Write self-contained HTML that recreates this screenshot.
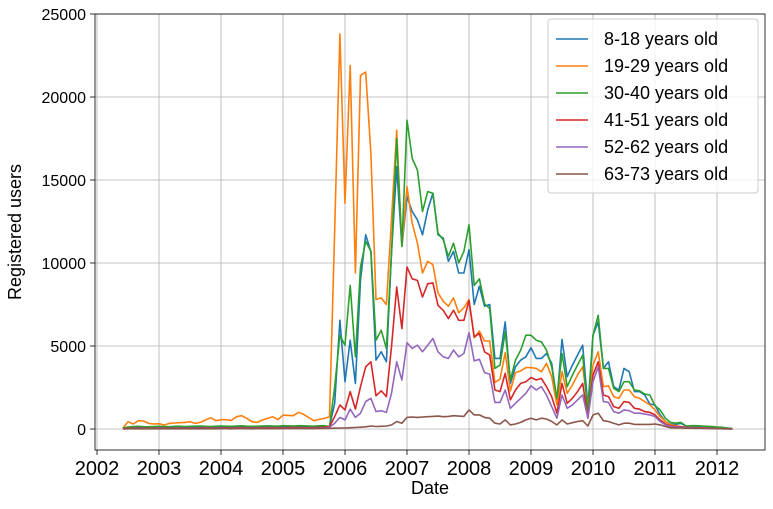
<!DOCTYPE html>
<html><head><meta charset="utf-8"><style>
body{margin:0;background:#fff;}
svg text{font-family:"Liberation Sans",sans-serif;fill:#000;}
</style></head><body>
<svg id="chart" width="773" height="504" xmlns="http://www.w3.org/2000/svg">
<rect x="0" y="0" width="773" height="504" fill="#fff"/>
<g id="grid"></g><g id="series"></g><g id="axes"></g><g id="legend"></g>
</svg>
<script>
const xTicks=[2002,2003,2004,2005,2006,2007,2008,2009,2010,2011,2012];
const yTicks=[0,5000,10000,15000,20000,25000];
const seriesNames=["8-18 years old","19-29 years old","30-40 years old","41-51 years old","52-62 years old","63-73 years old"];
const seriesColors=["#1f77b4","#ff7f0e","#2ca02c","#d62728","#9467bd","#8c564b"];
const startYear=2002.417;
const s8_18=[40,80,90,100,90,80,90,100,90,100,110,100,90,100,110,120,110,100,110,120,120,110,120,130,120,110,120,130,120,130,140,130,140,130,150,140,130,140,130,150,
150,1550,6550,2850,5350,2750,8970,11700,10680,4150,4650,4050,10600,15800,11000,14000,13100,12600,11700,13200,14200,11700,11500,10100,10700,9400,9400,10800,7500,8600,7400,7500,4250,4250,6450,2750,3750,4150,4350,4900,4250,
4250,4550,3950,1650,5400,3150,3850,4450,5050,1350,5650,6450,3650,4050,2550,2350,3650,3450,2250,2250,2050,1500,1450,850,450,280,280,340,180,120,120,100,100,80,80,60,40,20];
const s19_29=[40,440,300,500,480,340,300,320,240,340,360,380,400,440,340,400,540,680,500,560,560,520,740,800,640,440,400,540,640,740,560,840,820,800,1000,880,680,500,580,640,
740,12000,23800,13600,21900,9400,21300,21500,16600,7800,7900,7500,12600,18000,11000,14600,12400,11200,9400,10100,9900,8200,7700,7400,7900,7000,7300,7800,5500,5900,5300,5300,2800,3000,4600,2300,3400,3500,3700,3700,3650,
3450,3950,3150,1450,3450,2150,2650,3250,3750,1350,3850,4650,2550,2600,1950,1850,2350,2350,1950,1850,1650,1450,1150,750,450,250,200,150,100,90,80,70,60,50,40,30,15];
const s30_40=[60,120,150,160,140,130,150,160,150,140,160,170,150,160,170,180,160,150,170,180,170,160,180,190,170,160,170,180,190,180,170,200,190,180,200,190,180,170,190,200,
150,2550,5650,5050,8650,4350,9750,11300,10700,5350,5950,4850,10600,17500,11000,18600,16300,15600,13100,14300,14200,11800,11400,10400,11200,10000,10700,12300,8650,9050,7550,7250,3650,3850,5850,2950,4150,4750,5650,5650,5350,
5250,4750,3750,1850,4550,2550,3250,3850,4450,850,5650,6850,3650,3650,2450,2250,2850,2850,2350,2300,2100,2050,1400,1150,650,400,350,400,180,200,200,180,160,150,120,100,60,30];
const s41_51=[20,40,50,60,50,40,50,60,50,40,50,60,50,60,50,60,70,60,50,60,70,60,70,80,70,60,70,80,70,80,70,80,90,80,90,80,70,80,90,100,
150,750,1450,1150,2250,1200,2550,3750,4050,2000,2300,1950,4950,8550,6050,9750,9050,8950,7950,8750,8800,7450,7150,6650,7150,6550,6550,7750,5550,5750,4650,4450,2350,2250,3350,1750,2350,2750,2850,3100,2950,
3050,2550,1950,950,2750,1550,1850,2250,2750,650,3250,4050,2050,1950,1350,1250,1650,1600,1250,1200,1050,1000,850,550,300,180,150,130,100,80,70,60,50,40,30,20,10,5];
const s52_62=[10,20,25,30,25,20,25,30,25,20,25,30,25,30,25,30,35,30,25,30,35,30,35,40,35,30,35,40,35,40,35,40,45,40,45,40,35,40,45,50,
100,350,700,550,1200,700,950,1650,1850,1050,1100,1000,2150,4050,2950,5200,4850,5050,4650,5050,5450,4650,4350,4250,4750,4350,4550,5800,4100,4200,3400,3300,1600,1600,2350,1250,1550,1850,2150,2600,2350,
2550,2050,1350,650,2050,1250,1450,1750,2050,650,2850,3750,1650,1600,1050,950,1150,1100,950,950,900,850,750,450,250,150,120,100,80,70,60,50,40,30,20,15,10,5];
const s63_73=[5,10,10,15,10,10,15,10,15,10,15,10,15,20,15,20,15,20,15,20,20,15,20,25,20,15,20,25,20,25,20,25,30,25,30,25,20,25,30,30,
40,50,60,60,80,90,110,130,180,150,160,180,240,450,350,700,720,700,720,740,760,780,740,760,800,780,760,1150,850,850,700,650,350,300,550,250,300,400,550,650,550,
650,600,450,250,550,300,380,450,500,180,850,950,500,450,350,250,350,350,280,280,280,280,300,250,150,80,70,60,50,50,40,40,30,30,20,20,10,5];
const allSeries=[s8_18,s19_29,s30_40,s41_51,s52_62,s63_73];

const NS="http://www.w3.org/2000/svg";
const L=95,R=765,T=14,B=450;
function xOf(yr){return 97+(yr-2002)*62;}
function yOf(v){return 429-v*83/5000;}
function mk(tag,attrs,parent){const e=document.createElementNS(NS,tag);for(const k in attrs)e.setAttribute(k,attrs[k]);parent.appendChild(e);return e;}
const grid=document.getElementById('grid'),axes=document.getElementById('axes'),ser=document.getElementById('series'),leg=document.getElementById('legend');
xTicks.forEach(t=>{const x=xOf(t);
 const g=mk('line',{x1:x,x2:x,y1:T,y2:B,stroke:'#b0b0b0','stroke-width':0.8},grid);
 
 
 mk('line',{x1:x,x2:x,y1:B,y2:B+5,stroke:'#000','stroke-width':0.8},axes);
 const tx=mk('text',{x:x,y:B+25,'text-anchor':'middle','font-size':20},axes);tx.textContent=t;
 
 
});
yTicks.forEach(t=>{const y=yOf(t);
 const g=mk('line',{x1:L,x2:R,y1:y,y2:y,stroke:'#b0b0b0','stroke-width':0.8},grid);
 
 
 mk('line',{x1:L-5,x2:L,y1:y,y2:y,stroke:'#000','stroke-width':0.8},axes);
 const tx=mk('text',{x:L-9,y:y+6,'text-anchor':'end','font-size':16},axes);tx.textContent=t;
 
 
});
const frame=mk('rect',{x:L,y:T,width:R-L,height:B-T,fill:'none',stroke:'#000','stroke-width':0.8},axes);


const xl=mk('text',{x:(L+R)/2,y:494,'text-anchor':'middle','font-size':18},axes);xl.textContent='Date';


const yl=mk('text',{x:0,y:0,'text-anchor':'middle','font-size':18,transform:'translate(21,232) rotate(-90)'},axes);yl.textContent='Registered users';


allSeries.forEach((arr,si)=>{
 const pts=arr.map((v,i)=>xOf(startYear+i/12).toFixed(1)+','+yOf(v).toFixed(1)).join(' ');
 const p=mk('polyline',{points:pts,fill:'none',stroke:seriesColors[si],'stroke-width':1.6,'stroke-linejoin':'round'},ser);
 
 
});
const box=mk('rect',{x:548,y:19,width:210,height:174,rx:3,fill:'#fff','fill-opacity':0.8,stroke:'#ccc'},leg);


seriesNames.forEach((n,i)=>{const y=39+i*27;
 const ln=mk('line',{x1:556,x2:588,y1:y,y2:y,stroke:seriesColors[i],'stroke-width':1.6},leg);
 
 
 const tx=mk('text',{x:604,y:y+6,'font-size':18},leg);tx.textContent=n;
 
 
});
</script>
</body></html>
